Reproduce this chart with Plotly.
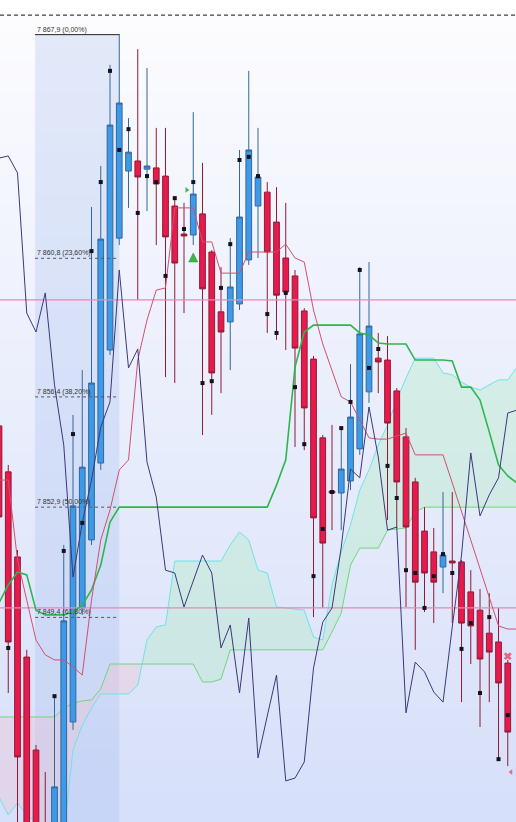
import numpy as np
import plotly.graph_objects as go

# ---------------- data ----------------
open_ = [7855.48, 7854.02, 7851.32, 7848.14, 7845.19, 7842.02, 7841.06, 7842.33, 7846.08, 7849.70,
         7851.86, 7854.30, 7857.89, 7861.44, 7863.57, 7863.89, 7863.63, 7863.67, 7863.41, 7862.46,
         7861.57, 7861.54, 7862.21, 7861.00, 7859.10, 7858.78, 7859.35, 7860.75, 7862.46, 7862.90,
         7861.95, 7860.81, 7860.24, 7859.13, 7857.60, 7855.10, 7853.41, 7853.35, 7853.73, 7854.75,
         7856.56, 7857.63, 7857.57, 7856.59, 7855.13, 7853.70, 7852.14, 7851.48, 7851.00, 7851.19,
         7851.16, 7850.21, 7849.63, 7848.90, 7848.62, 7847.95]
high_ = [7855.98, 7854.24, 7851.54, 7848.37, 7845.35, 7844.49, 7846.90, 7851.70, 7855.83, 7857.25,
         7862.43, 7863.73, 7866.94, 7867.92, 7865.25, 7867.44, 7866.84, 7864.94, 7864.94, 7862.71,
         7862.56, 7865.44, 7863.83, 7861.06, 7860.52, 7861.44, 7864.24, 7866.75, 7864.94, 7863.22,
         7863.06, 7862.56, 7860.43, 7859.22, 7857.70, 7855.19, 7855.51, 7855.41, 7857.44, 7860.52,
         7860.68, 7858.43, 7858.33, 7856.68, 7855.41, 7853.83, 7852.90, 7852.24, 7853.38, 7853.38,
         7851.22, 7850.90, 7850.30, 7850.17, 7849.70, 7848.05]
low_ = [7851.86, 7847.00, 7842.33, 7841.06, 7839.79, 7838.21, 7840.43, 7842.02, 7845.83, 7849.48,
        7851.70, 7854.08, 7857.73, 7861.22, 7862.40, 7859.48, 7862.30, 7861.22, 7857.03, 7856.84,
        7859.06, 7861.22, 7855.19, 7855.83, 7856.52, 7857.25, 7859.16, 7860.59, 7860.81, 7858.43,
        7858.21, 7857.89, 7854.81, 7854.71, 7849.41, 7849.70, 7852.17, 7852.17, 7853.44, 7854.56,
        7856.21, 7856.52, 7852.49, 7852.24, 7849.73, 7848.37, 7849.57, 7849.22, 7850.17, 7849.22,
        7846.71, 7847.92, 7845.92, 7846.71, 7844.90, 7844.68]
close_ = [7852.59, 7848.62, 7844.97, 7841.70, 7840.43, 7838.84, 7844.02, 7849.29, 7852.94, 7854.17,
          7856.84, 7861.41, 7865.03, 7865.73, 7864.17, 7863.38, 7863.73, 7863.16, 7861.48, 7860.65,
          7861.51, 7862.84, 7859.83, 7857.16, 7858.46, 7859.89, 7862.11, 7864.24, 7863.38, 7861.00,
          7859.63, 7859.73, 7857.95, 7856.05, 7852.56, 7851.76, 7853.35, 7854.11, 7855.76, 7858.40,
          7858.65, 7857.51, 7855.57, 7853.70, 7852.27, 7850.52, 7850.81, 7850.52, 7851.38, 7851.13,
          7849.22, 7849.13, 7848.08, 7848.30, 7847.32, 7845.76]

sar = [None, 7848.43, None, None, None, None, 7846.90, 7851.51, 7855.22, 7852.40,
       7861.03, 7863.22, 7866.75, 7864.24, 7864.90, 7862.24, 7863.41, 7863.22, 7860.24, 7862.71,
       7861.73, 7863.22, 7856.84, 7856.90, 7859.86, 7861.25, 7863.92, 7864.02, 7863.41, 7859.03,
       7858.43, 7859.70, 7856.71, 7854.90, 7850.71, 7852.21, 7853.38, 7855.41, 7856.24, 7860.43,
       7857.32, 7857.92, 7854.21, 7853.19, 7850.90, 7850.81, 7849.70, 7850.71, 7851.41, 7850.81,
       7848.40, 7849.22, 7847.00, 7849.41, 7844.90, 7846.30]

chikou = [7863.98, 7864.05, 7863.51, 7859.06, 7858.46, 7859.70, 7856.78, 7854.87, 7850.68, 7852.40,
          7853.76, 7855.44, 7856.24, 7860.43, 7857.32, 7857.92, 7854.33, 7853.22, 7850.90, 7850.81,
          7849.73, 7850.59, 7851.38, 7850.81, 7848.43, 7849.16, 7847.00, 7849.38, 7844.94, 7846.27,
          7847.57, 7844.21, 7844.30, 7844.81, 7847.79, 7849.25, 7849.70, 7851.63, 7854.11, 7853.83,
          7856.08, 7854.49, 7852.17, 7852.27, 7846.37, 7847.98, 7847.67, 7847.03, 7846.71, 7849.10,
          7851.38, 7854.62, 7852.62, 7853.29, 7853.83, 7855.89, 7855.98]

tenkan = [7853.76, 7853.76, 7851.22, 7849.95, 7848.68, 7848.21, 7848.05, 7848.05, 7847.83, 7847.57,
          7849.95, 7851.86, 7852.81, 7854.08, 7854.40, 7857.57, 7858.84, 7859.79, 7859.86, 7862.40,
          7862.40, 7862.40, 7861.32, 7861.32, 7860.33, 7860.33, 7860.33, 7861.00, 7861.00, 7861.00,
          7861.00, 7861.25, 7860.81, 7860.68, 7859.16, 7858.08, 7857.25, 7856.40, 7856.24, 7855.67,
          7855.10, 7855.06, 7855.06, 7855.16, 7855.25, 7854.56, 7854.56, 7854.56, 7854.56, 7853.67,
          7852.75, 7851.83, 7850.94, 7850.05, 7849.13, 7849.03, 7849.03]

kijun = [7849.86, 7850.43, 7850.84, 7850.75, 7849.63, 7849.48, 7849.48, 7849.48, 7849.57, 7849.79,
         7850.27, 7851.06, 7852.43, 7852.90, 7852.90, 7852.90, 7852.90, 7852.90, 7852.90, 7852.90,
         7852.90, 7852.90, 7852.90, 7852.90, 7852.90, 7852.90, 7852.90, 7852.90, 7852.90, 7852.90,
         7853.60, 7854.40, 7857.35, 7858.46, 7858.68, 7858.68, 7858.68, 7858.68, 7858.68, 7858.43,
         7858.37, 7858.11, 7858.08, 7858.08, 7858.08, 7857.57, 7857.57, 7857.57, 7857.57, 7857.54,
         7856.71, 7856.71, 7856.30, 7855.29, 7854.24, 7853.89, 7853.67]

span_a = [7843.70, 7843.13, 7843.51, 7843.13, 7842.90, 7842.65, 7842.49, 7842.49, 7845.19, 7845.98,
          7846.52, 7846.97, 7846.97, 7846.97, 7846.97, 7847.25, 7848.68, 7849.10, 7849.16, 7851.19,
          7851.19, 7851.19, 7851.19, 7851.19, 7851.19, 7851.70, 7852.11, 7851.86, 7850.90, 7850.81,
          7849.73, 7849.70, 7849.67, 7849.63, 7848.78, 7848.68, 7850.43, 7851.48, 7852.33, 7853.44,
          7854.08, 7854.87, 7855.51, 7856.30, 7857.00, 7857.63, 7857.63, 7857.63, 7857.16, 7857.10,
          7856.87, 7856.71, 7856.62, 7856.78, 7856.94, 7856.94, 7857.35]

span_b = [7846.24, 7846.24, 7846.24, 7846.24, 7846.24, 7846.24, 7846.24, 7846.52, 7846.68, 7846.75,
          7846.78, 7847.13, 7847.92, 7847.92, 7847.92, 7847.92, 7847.92, 7847.92, 7847.92, 7847.92,
          7847.92, 7847.92, 7847.35, 7847.35, 7847.44, 7848.37, 7848.37, 7848.37, 7848.37, 7848.37,
          7848.37, 7848.37, 7848.37, 7848.37, 7848.37, 7848.37, 7848.94, 7849.54, 7851.06, 7851.60,
          7851.60, 7851.60, 7852.17, 7852.21, 7852.24, 7852.75, 7852.90, 7852.90, 7852.90, 7852.90,
          7852.90, 7852.90, 7852.90, 7852.90, 7852.90, 7852.90, 7852.90]

level_lines = [7859.48, 7849.70]
top_dashed = 7868.52

fib_prices = [7867.9, 7860.8, 7856.4, 7852.9, 7849.4]
fib_pcts = [0.0, 23.6, 38.2, 50.0, 61.8]
fib_start, fib_end = 3.9, 13.0

up_signal_x, up_signal_y = [21], [7860.97]
flag_x, flag_y = [20.3], [7862.97]
x_signal_x, x_signal_y = [55], [7848.17]
tri_x, tri_y = [55.35], [7844.49]

Y_MIN, Y_MAX = 7842.905, 7869.0
X_MIN, X_MAX = 0.108, 55.89

# ---------------- figure ----------------
n = len(open_)
xc = list(range(n))
xl = list(range(len(chikou)))

fig = go.Figure()

# cloud fill with crossing points (base subplot, under the candles)
def cloud_pts(x, a, b):
    xs, aa, bb = [], [], []
    for i in range(len(x)):
        if i > 0:
            d0 = a[i-1] - b[i-1]
            d1 = a[i] - b[i]
            if d0 * d1 < 0:
                t = d0 / (d0 - d1)
                xs.append(x[i-1] + t * (x[i] - x[i-1]))
                v = a[i-1] + t * (a[i] - a[i-1])
                aa.append(v); bb.append(v)
        xs.append(x[i]); aa.append(a[i]); bb.append(b[i])
    return xs, aa, bb

cx, ca, cb = cloud_pts(xl, span_a, span_b)
cmax = [max(p, q) for p, q in zip(ca, cb)]
fig.add_trace(go.Scatter(x=cx, y=cb, mode="lines", line=dict(width=0), hoverinfo="skip", showlegend=False))
fig.add_trace(go.Scatter(x=cx, y=cmax, mode="lines", line=dict(width=0), fill="tonexty",
                         fillcolor="rgba(175,235,195,0.38)", hoverinfo="skip", showlegend=False))
fig.add_trace(go.Scatter(x=cx, y=ca, mode="lines", line=dict(width=0), hoverinfo="skip", showlegend=False))
fig.add_trace(go.Scatter(x=cx, y=cmax, mode="lines", line=dict(width=0), fill="tonexty",
                         fillcolor="rgba(240,195,210,0.38)", hoverinfo="skip", showlegend=False))

fig.add_trace(go.Scatter(x=xl, y=span_a, mode="lines", line=dict(color="#6fe3e6", width=1),
                         hoverinfo="skip", showlegend=False))
fig.add_trace(go.Scatter(x=xl, y=span_b, mode="lines", line=dict(color="#72d67c", width=1),
                         hoverinfo="skip", showlegend=False))

# overlay subplot: candles and indicator lines on top of the cloud
fig.add_trace(go.Candlestick(
    x=xc, open=open_, high=high_, low=low_, close=close_,
    increasing=dict(line=dict(color="#34679a", width=1), fillcolor="#3d9ae8"),
    decreasing=dict(line=dict(color="#8e1b35", width=1), fillcolor="#e8194c"),
    whiskerwidth=0, showlegend=False, hoverinfo="skip", xaxis="x2", yaxis="y2"))

for lv in level_lines:
    fig.add_trace(go.Scatter(x=[X_MIN - 1, X_MAX + 1], y=[lv, lv], mode="lines",
                             line=dict(color="#e58ab8", width=1.3), hoverinfo="skip", showlegend=False,
                             xaxis="x2", yaxis="y2"))

fig.add_trace(go.Scatter(x=xl, y=kijun, mode="lines", line=dict(color="#2db64e", width=1.6),
                         hoverinfo="skip", showlegend=False, xaxis="x2", yaxis="y2"))
fig.add_trace(go.Scatter(x=xl, y=tenkan, mode="lines", line=dict(color="#d2506f", width=1),
                         hoverinfo="skip", showlegend=False, xaxis="x2", yaxis="y2"))
fig.add_trace(go.Scatter(x=xl, y=chikou, mode="lines", line=dict(color="#3d3878", width=1),
                         hoverinfo="skip", showlegend=False, xaxis="x2", yaxis="y2"))

fig.add_trace(go.Scatter(x=xc, y=sar, mode="markers",
                         marker=dict(symbol="square", size=4, color="#15121f"),
                         hoverinfo="skip", showlegend=False, xaxis="x2", yaxis="y2"))

fig.add_trace(go.Scatter(x=up_signal_x, y=up_signal_y, mode="markers",
                         marker=dict(symbol="arrow-up", size=9, color="#3cb84a",
                                     line=dict(color="#2a8a36", width=0.5)),
                         hoverinfo="skip", showlegend=False, xaxis="x2", yaxis="y2"))
fig.add_trace(go.Scatter(x=flag_x, y=flag_y, mode="markers",
                         marker=dict(symbol="triangle-right", size=5, color="#3cb84a"),
                         hoverinfo="skip", showlegend=False, xaxis="x2", yaxis="y2"))
fig.add_trace(go.Scatter(x=x_signal_x, y=x_signal_y, mode="markers",
                         marker=dict(symbol="x", size=7, color="#e8637d", line=dict(width=0)),
                         hoverinfo="skip", showlegend=False, xaxis="x2", yaxis="y2"))
fig.add_trace(go.Scatter(x=tri_x, y=tri_y, mode="markers",
                         marker=dict(symbol="triangle-left", size=5, color="#e0708c"),
                         hoverinfo="skip", showlegend=False, xaxis="x2", yaxis="y2"))

# ---------------- shapes ----------------
shapes = []
nb = 80
top_c = np.array([253, 253, 255])
bot_c = np.array([215, 224, 250])
for k in range(nb):
    t = k / (nb - 1)
    c = top_c + (bot_c - top_c) * t
    shapes.append(dict(type="rect", xref="paper", yref="paper", x0=0, x1=1,
                       y0=1 - (k + 1) / nb, y1=1 - k / nb + 0.001,
                       fillcolor="rgb(%d,%d,%d)" % tuple(c.astype(int)), line=dict(width=0), layer="below"))
shapes.append(dict(type="rect", xref="paper", yref="y", x0=0, x1=1, y0=top_dashed, y1=Y_MAX + 1,
                   fillcolor="white", line=dict(width=0), layer="below"))
shapes.append(dict(type="rect", xref="x", yref="y", x0=fib_start, x1=fib_end, y0=Y_MIN - 1, y1=fib_prices[0],
                   fillcolor="rgba(150,180,235,0.25)", line=dict(width=0), layer="below"))
shapes.append(dict(type="line", xref="paper", yref="y", x0=0, x1=1, y0=top_dashed, y1=top_dashed,
                   line=dict(color="#111111", width=1, dash="4px,3px")))
for i, p in enumerate(fib_prices):
    if i == 0:
        shapes.append(dict(type="line", xref="x", yref="y", x0=fib_start, x1=fib_end, y0=p, y1=p,
                           line=dict(color="#222222", width=1)))
    else:
        shapes.append(dict(type="line", xref="x", yref="y", x0=fib_start, x1=fib_end - 0.2, y0=p, y1=p,
                           line=dict(color="#555566", width=1, dash="3px,3px")))

annotations = []
for p, pc in zip(fib_prices, fib_pcts):
    ptxt = "{:,.1f}".format(p).replace(",", " ").replace(".", ",")
    pctxt = "{:.2f}%".format(pc).replace(".", ",")
    annotations.append(dict(x=fib_start, y=p, xref="x", yref="y", text="%s (%s)" % (ptxt, pctxt),
                            showarrow=False, xanchor="left", yanchor="bottom", yshift=-1,
                            font=dict(family="Liberation Sans, Arial", size=7, color="#333333")))

fig.update_layout(
    width=516, height=822,
    margin=dict(l=0, r=0, t=0, b=0),
    paper_bgcolor="white", plot_bgcolor="rgba(0,0,0,0)",
    xaxis=dict(range=[X_MIN, X_MAX], visible=False, fixedrange=True),
    yaxis=dict(range=[Y_MIN, Y_MAX], visible=False, fixedrange=True),
    xaxis2=dict(range=[X_MIN, X_MAX], visible=False, fixedrange=True, overlaying="x",
                rangeslider=dict(visible=False)),
    yaxis2=dict(range=[Y_MIN, Y_MAX], visible=False, fixedrange=True, overlaying="y"),
    shapes=shapes, annotations=annotations,
    boxgap=0.12,
    showlegend=False,
)

fig.write_html("out.html", config={"displayModeBar": False},
               post_script="document.body.style.margin='0';document.body.style.overflow='hidden';")
